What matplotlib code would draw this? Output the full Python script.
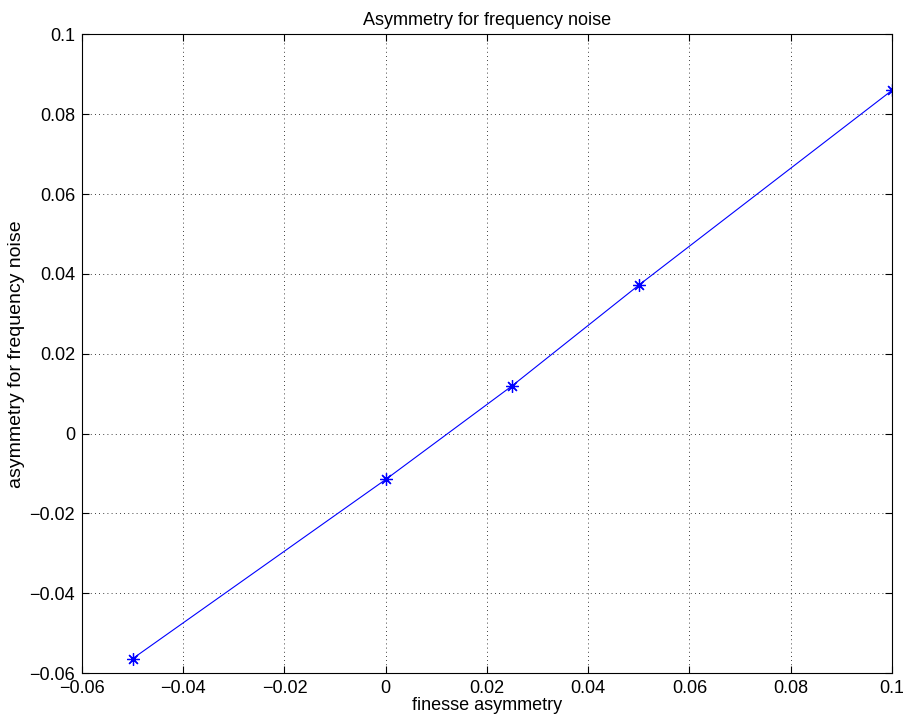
import matplotlib
matplotlib.use("Agg")
import matplotlib.pyplot as plt

# dados
finesse_asym = [-0.05, 0.0, 0.025, 0.05, 0.1]
freq_noise_asym = [-0.0564, -0.0115, 0.0120, 0.0372, 0.0860]

xticks = [-0.06, -0.04, -0.02, 0, 0.02, 0.04, 0.06, 0.08, 0.1]
yticks = [-0.06, -0.04, -0.02, 0, 0.02, 0.04, 0.06, 0.08, 0.1]


def fmt(v):
    if v == 0:
        return "0"
    s = f"{v:g}"
    return s.replace("-", "\u2212")


plt.rcParams["font.family"] = ["Liberation Sans", "DejaVu Sans"]
plt.rcParams["font.size"] = 13

fig = plt.figure(figsize=(9.04, 7.24), dpi=100)
ax = fig.add_axes([0.0907, 0.0704, 0.896, 0.882])

# asterisco de 8 pontas, como o '*' do MATLAB
ax.plot(finesse_asym, freq_noise_asym, color="blue", linewidth=0.8,
        marker=(8, 2, 0), markersize=9, markeredgewidth=0.9)

ax.set_xlim(-0.06, 0.1)
ax.set_ylim(-0.06, 0.1)
ax.set_xticks(xticks)
ax.set_yticks(yticks)
ax.set_xticklabels([fmt(v) for v in xticks])
ax.set_yticklabels([fmt(v) for v in yticks])

ax.tick_params(direction="in", top=True, right=True, length=5, width=0.8,
               labelsize=13, pad=5)
ax.grid(True, linestyle=(0, (1, 4)), color="black", linewidth=0.6)
for sp in ax.spines.values():
    sp.set_linewidth(0.8)

ax.set_title("Asymmetry for frequency noise", fontsize=13, pad=7)
ax.set_xlabel("finesse asymmetry", fontsize=13, labelpad=0)
ax.set_ylabel("asymmetry for frequency noise", fontsize=14, labelpad=3)

fig.savefig("out.png", dpi=100)
plt.close(fig)
